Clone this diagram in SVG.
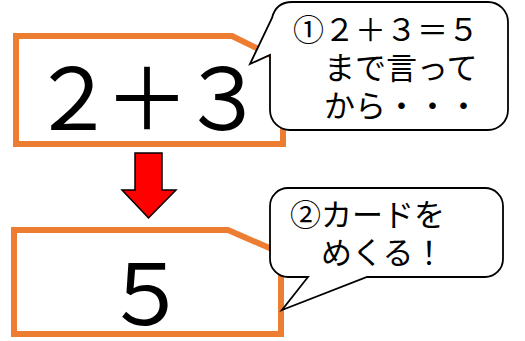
<svg xmlns="http://www.w3.org/2000/svg" width="525" height="341" viewBox="0 0 525 341">
<style>
.box{fill:#fff;stroke:#ED7D31;stroke-width:6;stroke-linejoin:miter}
.bub{fill:#fff;stroke:#000;stroke-width:1.8;stroke-linejoin:miter}
.big{font-family:"Noto Sans CJK JP","Noto Sans",sans-serif;font-size:85px;fill:#000;text-anchor:middle}
.t{font-family:"Noto Sans CJK JP","Noto Sans",sans-serif;font-size:31px;fill:#000}
</style>
<rect width="525" height="341" fill="#fff"/>
<g id="box1">
<path class="box" d="M16,36 H232 L283,61 V144 H16 Z"/>
<text class="big" x="73 147 223" y="130">２＋３</text>
</g>
<g id="box2">
<path class="box" d="M14,230 H228 L281,253 V334 H14 Z"/>
<text class="big" x="146" y="325">５</text>
</g>
<g id="connectors">
<polygon points="135,153 162,153 162,190 176,190 148.5,218 122,190 135,190" fill="#FF0000" stroke="#000" stroke-width="1.5" stroke-linejoin="miter"/>
</g>
<g id="bubble1">
<path class="bub" d="M292,2 H488 A20 20 0 0 1 508 22 V110 A20 20 0 0 1 488 130 H290 A20 20 0 0 1 270 110 V55 L250,64 L272,18 Q276,2 292,2 Z"/>
<text class="t" x="293" y="41">①２＋３＝５</text>
<text class="t" x="293" y="79">　まで言って</text>
<text class="t" x="293" y="117">　から・・・</text>
</g>
<g id="bubble2">
<path class="bub" d="M288,188 H485 A18 18 0 0 1 503 206 V259 A18 18 0 0 1 485 277 H367 L282,310 L308,277 H288 A18 18 0 0 1 270 259 V206 A18 18 0 0 1 288 188 Z"/>
<text class="t" x="290" y="226">②カードを</text>
<text class="t" x="290" y="264">　めくる！</text>
</g>
</svg>
